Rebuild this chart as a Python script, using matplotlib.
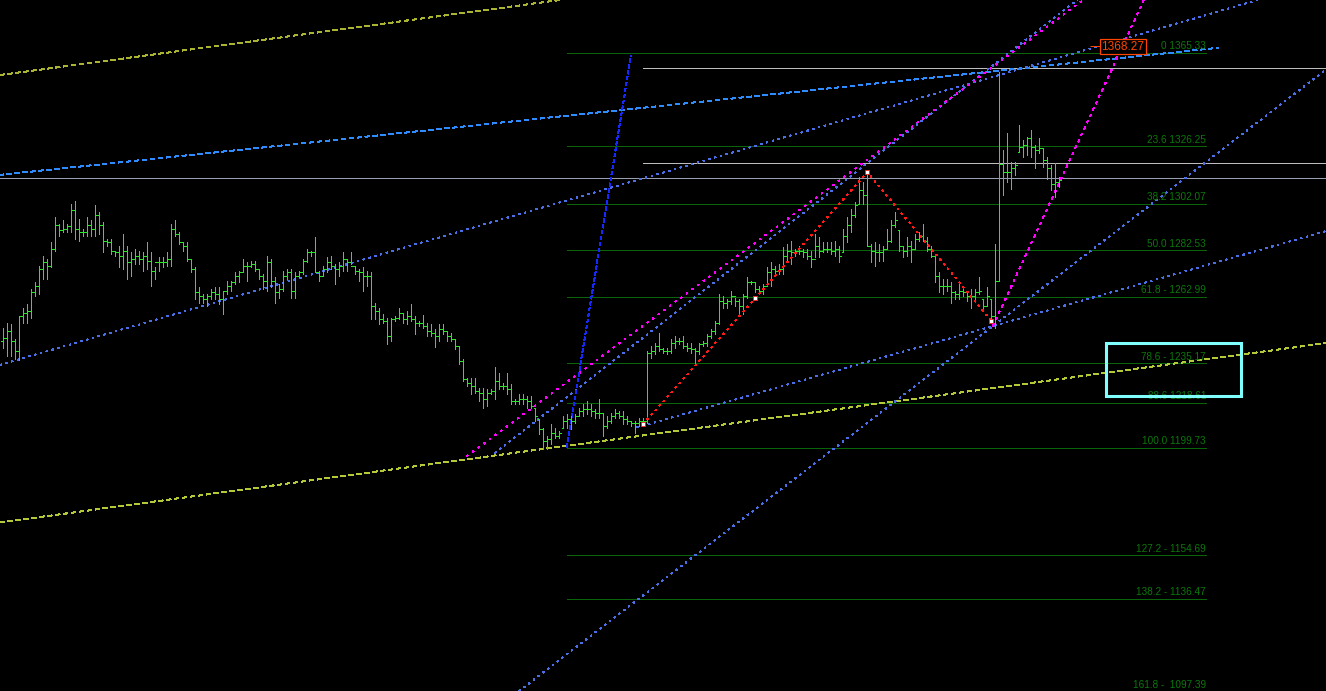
import matplotlib
matplotlib.use('Agg')
import matplotlib.pyplot as plt
from matplotlib.patches import Rectangle
import numpy as np

plt.rcParams['lines.scale_dashes'] = False

# ---- price bars (OHLC), one per bar index ----
opens = [
    1244.7, 1246.0, 1248.9, 1244.7, 1240.5, 1255.2, 1256.5, 1257.3, 1264.9, 1267.8,
    1274.9, 1277.5, 1276.2, 1283.3, 1293.0, 1290.9, 1291.7, 1292.6, 1299.3, 1291.7,
    1290.1, 1290.1, 1293.0, 1291.7, 1297.2, 1293.0, 1286.7, 1285.9, 1282.5, 1281.7,
    1280.4, 1282.5, 1277.5, 1279.1, 1280.4, 1279.1, 1280.4, 1278.3, 1274.1, 1277.5,
    1277.5, 1277.5, 1279.1, 1291.7, 1289.6, 1285.9, 1284.2, 1279.1, 1274.9, 1264.9,
    1263.6, 1262.3, 1263.6, 1264.9, 1264.4, 1262.3, 1265.7, 1267.8, 1269.1, 1272.0,
    1273.3, 1276.2, 1276.2, 1277.0, 1274.9, 1272.0, 1269.9, 1277.5, 1269.9, 1264.9,
    1266.5, 1272.0, 1273.3, 1265.7, 1272.0, 1273.3, 1278.3, 1281.7, 1281.7, 1273.3,
    1272.0, 1274.9, 1277.5, 1276.2, 1274.9, 1276.2, 1279.1, 1277.5, 1276.2, 1274.1,
    1273.3, 1272.0, 1272.0, 1259.4, 1257.3, 1253.9, 1253.1, 1246.8, 1253.9, 1254.4,
    1256.5, 1253.9, 1255.2, 1253.9, 1252.3, 1252.3, 1251.0, 1248.9, 1248.1, 1246.8,
    1249.7, 1248.9, 1246.8, 1245.5, 1242.6, 1236.3, 1228.7, 1227.1, 1225.8, 1223.7,
    1222.9, 1220.3, 1222.9, 1223.7, 1227.9, 1225.8, 1225.8, 1224.5, 1219.5, 1219.5,
    1220.3, 1220.3, 1219.5, 1216.6, 1211.9, 1207.7, 1202.7, 1203.5, 1206.1, 1204.8,
    1208.2, 1211.1, 1211.9, 1211.1, 1213.2, 1215.3, 1216.1, 1216.1, 1215.3, 1214.5,
    1214.5, 1209.0, 1211.1, 1213.2, 1214.5, 1213.2, 1211.9, 1211.1, 1210.3, 1210.3, 1211.1, 1211.1,
    1239.7, 1240.5, 1242.6, 1241.3, 1240.5, 1240.5, 1243.9, 1244.7, 1244.7, 1242.6,
    1241.8, 1241.3, 1240.5, 1243.4, 1243.9, 1246.8, 1248.9, 1252.3, 1261.5, 1260.7,
    1261.5, 1263.6, 1261.5, 1259.4, 1263.6, 1269.1, 1269.1, 1266.5, 1265.7, 1267.8,
    1273.3, 1274.9, 1274.1, 1274.9, 1280.4, 1282.5, 1281.7, 1282.5, 1282.5, 1281.7,
    1280.4, 1279.1, 1284.6, 1282.5, 1283.3, 1283.3, 1282.5, 1283.3, 1281.7, 1288.8,
    1293.0, 1297.2, 1302.2, 1307.7, 1305.6, 1284.6, 1282.5, 1281.7, 1281.7, 1283.3,
    1286.7, 1293.0, 1290.9, 1284.6, 1282.5, 1284.6, 1283.3, 1287.5, 1288.8, 1286.7,
    1283.3, 1280.4, 1272.0, 1267.8, 1267.8, 1267.8, 1264.9, 1264.4, 1265.7, 1264.9,
    1263.6, 1263.6, 1264.9, 1262.3, 1259.4, 1262.3, 1255.2,
    1269.9, 1318.6, 1315.3, 1315.3, 1316.9, 1323.7, 1325.8, 1326.6, 1329.5, 1325.8,
    1324.5, 1325.3, 1320.3, 1316.9, 1310.6, 1311.1,
]
highs = [
    1250.2, 1252.3, 1251.8, 1245.5, 1254.8, 1258.6, 1260.2, 1266.5, 1269.1, 1276.2,
    1280.4, 1279.1, 1285.9, 1296.4, 1293.8, 1295.1, 1293.8, 1301.8, 1303.1, 1295.9,
    1291.7, 1296.4, 1295.1, 1301.4, 1298.5, 1294.3, 1287.5, 1287.5, 1282.5, 1284.6,
    1289.6, 1284.6, 1281.7, 1283.3, 1282.5, 1281.7, 1285.9, 1281.7, 1275.4, 1279.6,
    1279.6, 1281.7, 1293.8, 1295.1, 1290.1, 1285.9, 1285.9, 1279.1, 1275.4, 1267.0,
    1264.4, 1264.4, 1266.5, 1267.0, 1267.0, 1265.7, 1269.9, 1269.9, 1273.3, 1274.1,
    1279.1, 1277.5, 1278.3, 1278.3, 1274.9, 1272.8, 1280.4, 1279.1, 1271.2, 1268.6,
    1274.1, 1274.9, 1274.9, 1273.3, 1274.1, 1279.1, 1283.3, 1282.5, 1288.0, 1274.1,
    1276.2, 1279.6, 1280.4, 1277.0, 1277.5, 1281.7, 1279.1, 1281.7, 1276.2, 1274.9,
    1275.4, 1274.1, 1273.3, 1260.7, 1258.6, 1256.0, 1254.4, 1254.4, 1255.2, 1258.6,
    1256.5, 1257.3, 1260.2, 1255.2, 1253.1, 1255.6, 1252.3, 1251.8, 1249.7, 1251.8,
    1251.8, 1248.9, 1248.1, 1245.5, 1242.6, 1237.1, 1229.2, 1229.2, 1229.2, 1225.0,
    1225.0, 1224.5, 1224.5, 1233.8, 1231.3, 1227.1, 1231.3, 1226.6, 1220.3, 1222.4,
    1222.4, 1221.6, 1221.6, 1216.6, 1211.9, 1208.2, 1204.8, 1209.8, 1208.2, 1206.9,
    1213.2, 1214.0, 1213.2, 1214.0, 1216.6, 1218.2, 1219.5, 1218.2, 1216.1, 1220.3,
    1214.5, 1213.2, 1214.5, 1216.1, 1215.3, 1215.3, 1213.2, 1211.1, 1211.1, 1212.4, 1212.4, 1240.5,
    1242.6, 1243.9, 1248.1, 1241.8, 1241.8, 1245.5, 1246.8, 1246.0, 1246.8, 1243.9,
    1243.9, 1241.8, 1243.9, 1244.7, 1247.6, 1249.7, 1253.1, 1264.4, 1263.6, 1262.3,
    1265.7, 1262.8, 1262.3, 1264.4, 1271.2, 1269.9, 1269.1, 1267.8, 1268.6, 1275.4,
    1277.5, 1276.2, 1277.0, 1283.8, 1285.4, 1286.7, 1283.3, 1284.6, 1283.3, 1283.3,
    1282.5, 1289.6, 1288.0, 1285.9, 1285.9, 1285.9, 1286.7, 1284.6, 1291.7, 1296.4,
    1300.1, 1302.7, 1313.2, 1311.1, 1315.3, 1285.4, 1285.9, 1285.4, 1284.6, 1291.7,
    1295.1, 1298.5, 1290.9, 1284.6, 1288.0, 1286.7, 1289.6, 1290.1, 1293.8, 1288.0,
    1284.6, 1280.4, 1273.3, 1270.7, 1270.7, 1269.1, 1265.7, 1268.6, 1267.0, 1265.7,
    1266.5, 1266.5, 1271.2, 1262.3, 1267.0, 1262.3, 1285.4,
    1357.3, 1324.5, 1331.6, 1319.5, 1319.5, 1335.0, 1328.7, 1330.0, 1332.9, 1326.6,
    1329.5, 1325.3, 1321.6, 1318.2, 1319.0, 1313.2,
]
lows = [
    1241.8, 1238.4, 1238.4, 1237.1, 1236.7, 1252.3, 1252.3, 1254.4, 1263.6, 1264.4,
    1270.7, 1270.7, 1275.4, 1282.5, 1288.8, 1290.1, 1290.1, 1290.1, 1287.5, 1286.7,
    1288.8, 1288.8, 1288.8, 1288.8, 1289.6, 1281.7, 1284.6, 1281.2, 1280.4, 1275.4,
    1274.9, 1270.7, 1272.0, 1277.0, 1277.0, 1274.1, 1274.9, 1267.8, 1270.7, 1274.1,
    1275.4, 1276.2, 1276.2, 1288.8, 1285.4, 1282.5, 1278.3, 1273.3, 1262.3, 1260.7,
    1260.7, 1259.4, 1262.3, 1262.3, 1260.2, 1256.0, 1264.4, 1265.7, 1268.6, 1269.1,
    1273.3, 1269.9, 1275.4, 1274.1, 1270.7, 1266.5, 1265.7, 1267.0, 1260.7, 1262.8,
    1265.7, 1270.7, 1262.8, 1262.8, 1271.2, 1272.8, 1277.5, 1280.4, 1273.3, 1269.9,
    1272.0, 1273.3, 1274.9, 1268.6, 1272.0, 1274.1, 1274.1, 1277.0, 1272.8, 1269.9,
    1265.7, 1267.8, 1253.9, 1253.9, 1251.8, 1252.3, 1243.4, 1244.7, 1253.1, 1253.9,
    1252.3, 1251.8, 1253.1, 1247.6, 1251.0, 1250.2, 1246.8, 1246.8, 1242.2, 1244.7,
    1247.6, 1244.7, 1244.7, 1241.3, 1235.0, 1227.9, 1225.8, 1222.4, 1222.9, 1219.5,
    1216.6, 1217.4, 1222.4, 1220.3, 1224.5, 1224.5, 1222.4, 1218.2, 1218.2, 1218.2,
    1218.2, 1216.6, 1216.6, 1211.1, 1205.6, 1199.3, 1199.3, 1201.4, 1204.0, 1204.0,
    1208.2, 1208.2, 1207.7, 1210.3, 1213.2, 1213.2, 1214.0, 1213.2, 1212.4, 1212.4,
    1204.8, 1208.2, 1210.3, 1212.4, 1212.4, 1209.8, 1209.8, 1209.0, 1206.1, 1209.0, 1209.8, 1210.3,
    1237.6, 1239.2, 1240.5, 1239.7, 1239.2, 1239.7, 1241.8, 1243.4, 1241.8, 1240.5,
    1239.7, 1235.0, 1239.2, 1242.6, 1242.6, 1246.0, 1247.6, 1251.8, 1258.6, 1258.6,
    1260.2, 1259.4, 1256.5, 1256.0, 1262.8, 1268.6, 1264.9, 1264.4, 1264.4, 1268.6,
    1267.8, 1272.0, 1272.8, 1272.8, 1278.3, 1277.0, 1280.4, 1281.2, 1279.6, 1279.1,
    1275.4, 1279.6, 1279.6, 1281.7, 1281.7, 1281.2, 1280.4, 1277.5, 1281.7, 1285.9,
    1290.1, 1296.4, 1302.2, 1302.2, 1284.6, 1277.5, 1276.2, 1278.3, 1278.3, 1283.3,
    1285.9, 1292.2, 1282.5, 1279.6, 1280.4, 1277.5, 1283.3, 1286.7, 1286.7, 1282.5,
    1279.6, 1269.1, 1264.9, 1264.4, 1265.7, 1260.7, 1262.3, 1262.3, 1263.6, 1261.5,
    1258.6, 1262.3, 1264.4, 1257.3, 1259.4, 1253.1, 1250.2,
    1269.9, 1305.6, 1311.1, 1308.5, 1314.0, 1323.7, 1321.6, 1322.4, 1321.6, 1316.9,
    1323.2, 1317.4, 1312.7, 1307.7, 1304.8, 1309.0,
]
closes = [
    1246.0, 1248.9, 1244.7, 1240.5, 1255.2, 1256.5, 1257.3, 1264.9, 1267.8, 1274.9,
    1277.5, 1276.2, 1283.3, 1293.0, 1290.9, 1291.7, 1292.6, 1299.3, 1291.7, 1290.1,
    1290.1, 1293.0, 1291.7, 1297.2, 1293.0, 1286.7, 1285.9, 1282.5, 1281.7, 1280.4,
    1282.5, 1277.5, 1279.1, 1280.4, 1279.1, 1280.4, 1278.3, 1274.1, 1277.5, 1277.5,
    1277.5, 1279.1, 1291.7, 1289.6, 1285.9, 1284.2, 1279.1, 1274.9, 1264.9, 1263.6,
    1262.3, 1263.6, 1264.9, 1264.4, 1262.3, 1265.7, 1267.8, 1269.1, 1272.0, 1273.3,
    1276.2, 1276.2, 1277.0, 1274.9, 1272.0, 1269.9, 1277.5, 1269.9, 1264.9, 1266.5,
    1272.0, 1273.3, 1265.7, 1272.0, 1273.3, 1278.3, 1281.7, 1281.7, 1273.3, 1272.0,
    1274.9, 1277.5, 1276.2, 1274.9, 1276.2, 1279.1, 1277.5, 1276.2, 1274.1, 1273.3,
    1272.0, 1272.0, 1259.4, 1257.3, 1253.9, 1253.1, 1246.8, 1253.9, 1254.4, 1256.5,
    1253.9, 1255.2, 1253.9, 1252.3, 1252.3, 1251.0, 1248.9, 1248.1, 1246.8, 1249.7,
    1248.9, 1246.8, 1245.5, 1242.6, 1236.3, 1228.7, 1227.1, 1225.8, 1223.7, 1222.9,
    1220.3, 1222.9, 1223.7, 1227.9, 1225.8, 1225.8, 1224.5, 1219.5, 1219.5, 1220.3,
    1220.3, 1219.5, 1217.4, 1213.2, 1207.7, 1202.7, 1203.5, 1206.1, 1204.8, 1206.1,
    1211.1, 1211.9, 1211.1, 1213.2, 1215.3, 1216.1, 1216.1, 1215.3, 1214.5, 1214.5,
    1209.0, 1211.1, 1213.2, 1214.5, 1213.2, 1211.9, 1211.1, 1210.3, 1210.3, 1211.1, 1211.1, 1239.7,
    1240.5, 1242.6, 1241.3, 1240.5, 1240.5, 1243.9, 1244.7, 1244.7, 1242.6, 1241.8,
    1241.3, 1240.5, 1243.4, 1243.9, 1246.8, 1248.9, 1252.3, 1261.5, 1260.7, 1261.5,
    1263.6, 1261.5, 1259.4, 1263.6, 1269.1, 1269.1, 1266.5, 1265.7, 1267.8, 1273.3,
    1274.9, 1274.1, 1274.9, 1280.4, 1282.5, 1281.7, 1282.5, 1282.5, 1281.7, 1280.4,
    1279.1, 1284.6, 1282.5, 1283.3, 1283.3, 1282.5, 1283.3, 1280.4, 1288.8, 1293.0,
    1297.2, 1301.4, 1307.7, 1305.6, 1284.6, 1282.5, 1281.7, 1281.7, 1283.3, 1286.7,
    1293.0, 1295.1, 1284.6, 1282.5, 1284.6, 1283.3, 1287.5, 1288.8, 1286.7, 1283.3,
    1280.4, 1272.0, 1267.8, 1267.8, 1267.8, 1264.9, 1264.4, 1265.7, 1264.9, 1263.6,
    1263.6, 1264.9, 1265.7, 1259.4, 1263.6, 1255.2, 1269.9,
    1318.6, 1315.3, 1315.3, 1316.9, 1318.2, 1325.8, 1326.6, 1329.5, 1325.8, 1324.5,
    1325.3, 1320.3, 1316.9, 1310.6, 1311.1, 1311.9,
]

# ---- fibonacci retracement ----
fib_levels = ['0', '23.6', '38.2', '50.0', '61.8 -', '78.6 -', '88.6', '100.0',
              '127.2 -', '138.2 -', '161.8 - ']
fib_prices = [1365.33, 1326.25, 1302.07, 1282.53, 1262.99, 1235.17, 1218.61,
              1199.73, 1154.69, 1136.47, 1097.39]
fib_span = [140.9, 300.7]

# ---- hand drawn objects, anchored in (bar index, price) ----
line_a = ([-5.0, 303.7], [1313.5, 1367.5])          # light blue segment
line_b = ([4.0, 249.0], [1236.9, 1356.1])           # blue, through left low
line_d = ([247.4, 330.7], [1250.8, 1358.4])         # blue, through last low
line_e = ([158.4, 335.0], [1208.3, 1292.7])         # blue, flat support
chan_magenta = ([115.9, 299.2], [1196.3, 1423.8])
chan_blue = ([122.9, 299.2], [1197.6, 1427.7])
steep_blue = ([140.9, 156.9], [1200.1, 1364.1])
magenta_fast = ([247.4, 287.4], [1250.8, 1395.7])
yellow_low = ([135.0, 330.7], [1199.3, 1243.7])
yellow_top = ([-0.825, 139.2], [1356.1, 1387.55])

zigzag_bars = [160, 216, 247]

hline_prices = [1358.9, 1319.1, 1312.8]
hline_starts = [160.0, 160.0, -1.0]
hline_colors = ['#bdbdbd', '#bdbdbd', '#98a0b0']

price_label = 1368.27
price_label_x = [271.7, 279.9]
box_x = [275.7, 309.4]
box_y = [1221.5, 1243.7]

x_range = (-0.825, 330.675)
y_range = (1097.8, 1387.55)

fig = plt.figure(figsize=(13.26, 6.91), dpi=100, facecolor='black')
ax = fig.add_axes([0, 0, 1, 1])
ax.set_facecolor('black')
ax.set_xlim(*x_range)
ax.set_ylim(*y_range)
ax.axis('off')

px = 0.72  # one screen pixel in points
narrow = ['Liberation Sans Narrow', 'Liberation Sans', 'DejaVu Sans']

# fib levels
ax.hlines(fib_prices, fib_span[0], fib_span[1], colors='#0a640a', lw=px, antialiased=False)
for lvl, pr in zip(fib_levels, fib_prices):
    ax.annotate(f'{lvl} {pr:.2f}', xy=(fib_span[1], pr), xytext=(0, 1.2),
                textcoords='offset points', ha='right', va='bottom',
                fontsize=7.2, color='#0b780b', family=narrow, annotation_clip=False)

# horizontal lines
for pr, x0, c in zip(hline_prices, hline_starts, hline_colors):
    ax.hlines(pr, x0, x_range[1] + 5, colors=c, lw=px, antialiased=False)


def dashed(xs, ys, color, dash, lw=px, infinite=False):
    if infinite:
        ax.axline((xs[0], ys[0]), (xs[1], ys[1]), color=color, lw=lw,
                  linestyle=(0, dash), antialiased=False)
    else:
        ax.plot(xs, ys, color=color, lw=lw, linestyle=(0, dash), antialiased=False)


dashed(*yellow_top, '#aab432', (2.9, 2.6), infinite=True)
dashed(*yellow_low, '#b4c838', (2.9, 2.4), infinite=True)
dashed(*line_a, '#2e8cff', (2.9, 2.2))
dashed(*line_b, '#4a6ee6', (1.4, 2.9), infinite=True)
dashed(*line_d, '#4a6ee6', (1.4, 2.9), infinite=True)
dashed(*line_e, '#4a6ee6', (1.4, 2.9))
dashed(*chan_blue, '#4a6ee6', (1.4, 2.9))
dashed(*chan_magenta, '#ff00ff', (1.4, 3.6))
dashed(*magenta_fast, '#ff00ff', (1.6, 3.2))
dashed(*steep_blue, '#1428ff', (2.4, 1.6), lw=px * 1.3)

# OHLC bars
idx = np.arange(len(closes))
bar_c = '#2ae62a'
ax.vlines(idx, lows, highs, colors=bar_c, lw=px, antialiased=False)
ax.hlines(opens, idx - 0.45, idx, colors=bar_c, lw=px, antialiased=False)
ax.hlines(closes, idx, idx + 0.45, colors=bar_c, lw=px, antialiased=False)

# zigzag with markers
zz_y = [lows[zigzag_bars[0]], highs[zigzag_bars[1]], lows[zigzag_bars[2]]]
ax.plot(zigzag_bars, zz_y, color='#ff1a1a', lw=px, linestyle=(0, (1.1, 3.0)),
        antialiased=False)
mid_x = (zigzag_bars[0] + zigzag_bars[1]) / 2
mid_y = (zz_y[0] + zz_y[1]) / 2
ax.plot(zigzag_bars + [mid_x], zz_y + [mid_y], linestyle='none', marker='s',
        markersize=3.2, markerfacecolor='white', markeredgecolor='#ff2020',
        markeredgewidth=0.6)

# price label with pointer
ax.hlines(price_label, price_label_x[0], price_label_x[0] + 3.0, colors='#ff4500', lw=px)
ax.text(price_label_x[1], price_label - 0.4, f'{price_label:.2f}', ha='center', va='center',
        fontsize=8.6, color='#ff4500', family=narrow,
        bbox=dict(boxstyle='square,pad=0.12', facecolor='black', edgecolor='#ff4500',
                  linewidth=px * 1.2))

# highlight box
ax.add_patch(Rectangle((box_x[0], box_y[0]), box_x[1] - box_x[0], box_y[1] - box_y[0],
                       fill=False, edgecolor='#80ffff', lw=2.2, zorder=5))

fig.savefig('out.png', dpi=100, facecolor='black')
